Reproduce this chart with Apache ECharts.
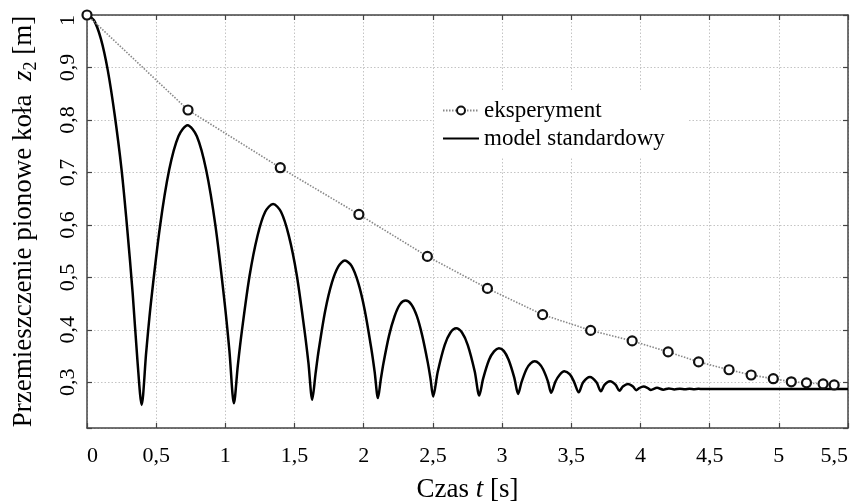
<!DOCTYPE html>
<html><head><meta charset="utf-8">
<script src="https://cdn.jsdelivr.net/npm/echarts@6/dist/echarts.min.js"></script>
<style>html,body{margin:0;padding:0;background:#fff}#c{width:855px;height:504px}</style>
</head><body><div id="c"></div>
<script>
const seriesNames = ['eksperyment', 'model standardowy'];

const expT = [0, 0.73, 1.397, 1.965, 2.46, 2.894, 3.293, 3.64, 3.94, 4.20, 4.42, 4.64, 4.80, 4.96, 5.09, 5.20, 5.32, 5.40];
const expZ = [1.0, 0.819, 0.709, 0.620, 0.540, 0.479, 0.429, 0.399, 0.379, 0.358, 0.339, 0.324, 0.314, 0.307, 0.301, 0.299, 0.297, 0.295];

const modelT = [
  0, 0.05, 0.1, 0.15, 0.2, 0.25, 0.29, 0.33, 0.365, 0.395,
  0.428, 0.461, 0.528, 0.594, 0.661, 0.727, 0.794, 0.861, 0.928, 0.995, 1.029, 1.062,
  1.090, 1.119, 1.175, 1.232, 1.288, 1.345, 1.402, 1.458, 1.515, 1.571, 1.600, 1.628,
  1.652, 1.675, 1.722, 1.770, 1.817, 1.864, 1.912, 1.960, 2.007, 2.055, 2.079, 2.103,
  2.123, 2.143, 2.183, 2.223, 2.263, 2.303, 2.343, 2.383, 2.422, 2.462, 2.482, 2.502,
  2.535, 2.585, 2.627, 2.668, 2.710, 2.752, 2.802, 2.835,
  2.863, 2.906, 2.942, 2.977, 3.012, 3.047, 3.088, 3.116,
  3.140, 3.176, 3.206, 3.236, 3.266, 3.296, 3.331, 3.355,
  3.385, 3.415, 3.45, 3.49, 3.52, 3.554,
  3.586, 3.635, 3.682, 3.714,
  3.740, 3.78, 3.821, 3.848,
  3.873, 3.91, 3.946, 3.970,
  3.991, 4.022, 4.054, 4.075,
  4.12, 4.165, 4.205, 4.245, 4.285, 4.322, 4.355, 4.39, 4.42, 4.45, 4.5, 5.5
];
const modelZ = [
  1.0, 0.99, 0.955, 0.895, 0.81, 0.705, 0.595, 0.47, 0.34, 0.257,
  0.358, 0.449, 0.598, 0.705, 0.769, 0.790, 0.769, 0.705, 0.599, 0.451, 0.361, 0.260,
  0.332, 0.397, 0.503, 0.579, 0.625, 0.640, 0.625, 0.580, 0.506, 0.401, 0.338, 0.267,
  0.317, 0.362, 0.437, 0.490, 0.521, 0.532, 0.522, 0.490, 0.438, 0.364, 0.320, 0.270,
  0.305, 0.337, 0.389, 0.426, 0.449, 0.456, 0.449, 0.427, 0.390, 0.339, 0.308, 0.273,
  0.320, 0.371, 0.395, 0.403, 0.395, 0.371, 0.321, 0.275,
  0.307, 0.343, 0.359, 0.365, 0.360, 0.343, 0.309, 0.278,
  0.300, 0.325, 0.336, 0.340, 0.336, 0.325, 0.302, 0.280,
  0.301, 0.314, 0.321, 0.315, 0.301, 0.281,
  0.300, 0.310, 0.300, 0.283,
  0.295, 0.302, 0.295, 0.284,
  0.292, 0.297, 0.292, 0.285,
  0.289, 0.292, 0.289, 0.2855,
  0.2895, 0.286, 0.2885, 0.2865, 0.288, 0.2868, 0.2878, 0.287, 0.2876, 0.2872, 0.2875, 0.2875
];

const xName = ['Czas ', 't', ' [s]'];
const yName = ['Przemieszczenie pionowe koła  ', 'z', '2', ' [m]'];

const FONT = '"Liberation Serif","Times New Roman",serif';
function fmt(v) {
  const r = Math.round(v * 10);
  if (Math.abs(v * 10 - r) > 1e-6) return '';
  return String(r / 10).replace('.', ',');
}
const zip = (a, b) => a.map((x, i) => [x, b[i]]);

const axisLine = { show: true, onZero: false, lineStyle: { color: '#444', width: 1.5 } };
const axisTick = { show: true, inside: true, length: 5, lineStyle: { color: '#444', width: 1.2 } };
const splitLine = { show: true, lineStyle: { color: '#c4c4c4', width: 1, type: [1.5, 2] } };
const richT = {
  n: { fontFamily: FONT, fontSize: 27, color: '#000', lineHeight: 32 },
  i: { fontFamily: FONT, fontSize: 27, color: '#000', fontStyle: 'italic', lineHeight: 32 },
  s: { fontFamily: FONT, fontSize: 18, color: '#000', lineHeight: 20, verticalAlign: 'bottom' }
};

const chart = echarts.init(document.getElementById('c'), null, { renderer: 'canvas' });
chart.setOption({
  animation: false,
  backgroundColor: '#fff',
  grid: { left: 87, right: 7, top: 15, bottom: 76, containLabel: false, outerBoundsMode: 'none' },
  legend: {
    orient: 'vertical', left: 434, top: 91, itemWidth: 36, itemHeight: 10, itemGap: 5,
    padding: [8, 24, 8, 8],
    backgroundColor: '#fff',
    data: [
      { name: seriesNames[0] },
      { name: seriesNames[1], itemStyle: { color: 'rgba(0,0,0,0)', borderWidth: 0 } }
    ],
    textStyle: { fontFamily: FONT, fontSize: 23, color: '#000' }
  },
  xAxis: [
    {
      type: 'value', position: 'bottom', min: 0, max: 5.5, interval: 0.5,
      axisLine, axisTick, splitLine,
      axisLabel: { formatter: fmt, fontFamily: FONT, fontSize: 22, color: '#000', margin: 17,
                   alignMinLabel: 'left', alignMaxLabel: 'right' },
      name: '{n|' + xName[0] + '}{i|' + xName[1] + '}{n|' + xName[2] + '}',
      nameLocation: 'middle', nameGap: 46,
      nameTextStyle: { fontFamily: FONT, fontSize: 27, color: '#000', rich: richT }
    },
    {
      type: 'value', position: 'top', min: 0, max: 5.5, interval: 0.5,
      axisLine, axisTick, splitLine: { show: false }, axisLabel: { show: false }
    }
  ],
  yAxis: [
    {
      type: 'value', position: 'left', min: 0.213, max: 1, splitNumber: 8, minInterval: 0.1, maxInterval: 0.1,
      axisLine, axisTick, splitLine,
      axisLabel: { formatter: fmt, rotate: 90, fontFamily: FONT, fontSize: 22, color: '#000', margin: 8,
                   alignMaxLabel: 'right' },
      name: '{n|' + yName[0] + '}{i|' + yName[1] + '}{s|' + yName[2] + '}{n|' + yName[3] + '}',
      nameLocation: 'middle', nameGap: 47, nameRotate: 90,
      nameTextStyle: { fontFamily: FONT, fontSize: 27, color: '#000', rich: richT }
    },
    {
      type: 'value', position: 'right', min: 0.213, max: 1, splitNumber: 8, minInterval: 0.1, maxInterval: 0.1,
      axisLine, axisTick, splitLine: { show: false }, axisLabel: { show: false }
    }
  ],
  series: [
    {
      name: seriesNames[0], type: 'line', data: zip(expT, expZ),
      symbol: 'circle', symbolSize: 9, showSymbol: true,
      itemStyle: { color: '#fff', borderColor: '#111', borderWidth: 2.2 },
      lineStyle: { color: '#888', width: 1.6, type: [1.5, 1.5] },
      z: 3
    },
    {
      name: seriesNames[1], type: 'line', data: zip(modelT, modelZ),
      showSymbol: false, symbol: 'none', smooth: 0.3,
      itemStyle: { color: '#000' },
      lineStyle: { color: '#000', width: 2.5 },
      z: 2
    }
  ]
});
</script>
</body></html>
